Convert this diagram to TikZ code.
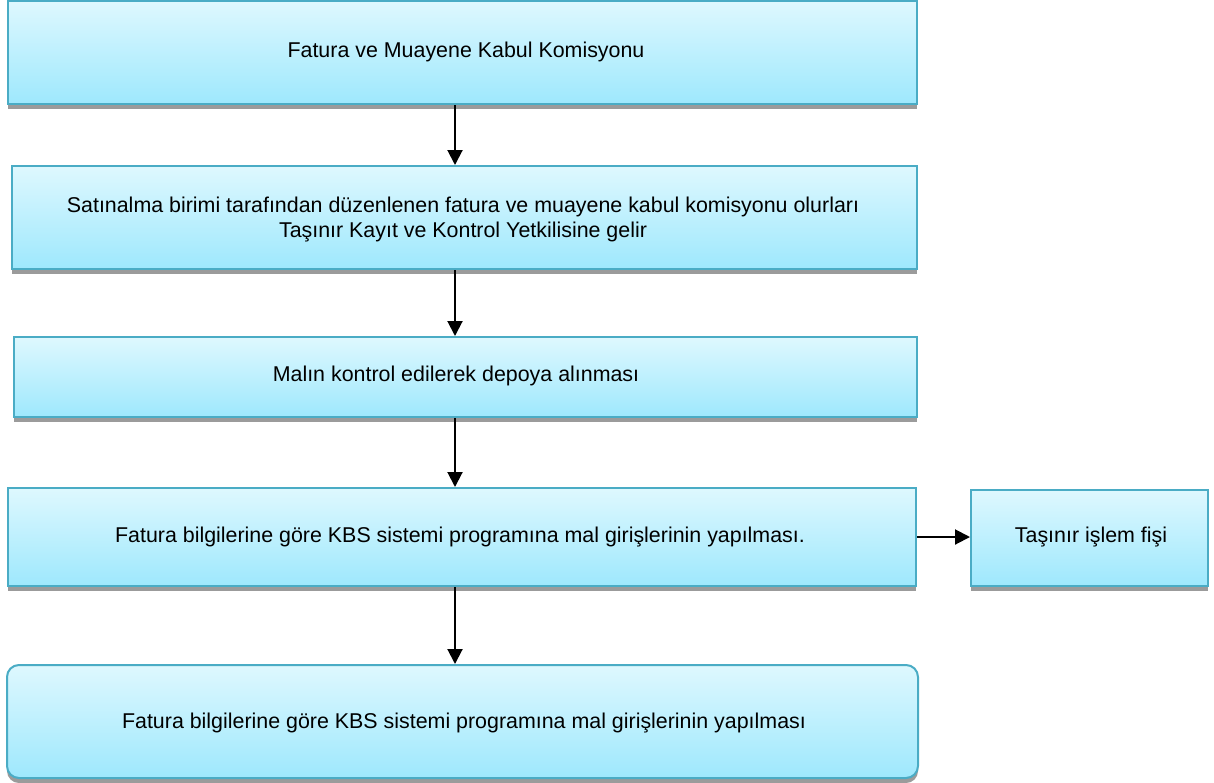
\documentclass[tikz,border=0pt]{standalone}
\usepackage{fontspec}
\setmainfont{Liberation Sans}
\usepackage{tikz}
\usetikzlibrary{arrows.meta,positioning,shadows,calc}
\definecolor{boxtop}{HTML}{DEF8FE}
\definecolor{boxbot}{HTML}{9EE8FD}
\definecolor{boxline}{HTML}{4AACC5}
\definecolor{shadowgray}{HTML}{9B9B9B}

\begin{document}
\begin{tikzpicture}[x=0.5pt, y=-0.5pt,
    box/.style={draw=boxline, line width=1pt, top color=boxtop, bottom color=boxbot,
      inner sep=0pt,
      drop shadow={shadow xshift=0pt, shadow yshift=-2.5pt, fill=shadowgray, opacity=1}},
    txt/.style={align=center, font=\fontsize{10.7pt}{12.6pt}\selectfont, inner sep=0pt},
    arr/.style={-{Triangle[length=7.5pt, width=7.5pt]}, line width=1pt}]
  \useasboundingbox (0,0) rectangle (1214,782);
  % === Boxes ===
  \node[box, minimum width=454.5pt, minimum height=51.5pt] (b1) at (462.5,52.5) {};
  \node[box, minimum width=452.5pt, minimum height=51.5pt] (b2) at (464.5,217.5) {};
  \node[box, minimum width=451.5pt, minimum height=40pt]   (b3) at (465.5,377) {};
  \node[box, minimum width=454pt, minimum height=49pt]     (b4) at (462,537) {};
  \node[box, minimum width=118.5pt, minimum height=48pt]   (b5) at (1089.5,538) {};
  \node[box, rounded corners=6pt, minimum width=455.5pt, minimum height=56.5pt] (b6) at (462.5,721.5) {};
  % === Texts ===
  \node[txt] (t1) at (466,52)    {Fatura ve Muayene Kabul Komisyonu};
  \node[txt] (t2) at (463,219.5) {Satınalma birimi tarafından düzenlenen fatura ve muayene kabul komisyonu olurları\\Taşınır Kayıt ve Kontrol Yetkilisine gelir};
  \node[txt] (t3) at (456,376)   {Malın kontrol edilerek depoya alınması};
  \node[txt] (t4) at (460,537)   {Fatura bilgilerine göre KBS sistemi programına mal girişlerinin yapılması.};
  \node[txt] (t5) at (1091,537)  {Taşınır işlem fişi};
  \node[txt] (t6) at (464,723)   {Fatura bilgilerine göre KBS sistemi programına mal girişlerinin yapılması};
  % === Arrows ===
  \coordinate (ax) at (455,0);
  \draw[arr] (b1.south -| ax) -- (b2.north -| ax);
  \draw[arr] (b2.south -| ax) -- (b3.north -| ax);
  \draw[arr] (b3.south -| ax) -- (b4.north -| ax);
  \draw[arr] (b4.south -| ax) -- (b6.north -| ax);
  \draw[arr] (b4.east) -- (b4.east -| b5.west);
\end{tikzpicture}
\end{document}
